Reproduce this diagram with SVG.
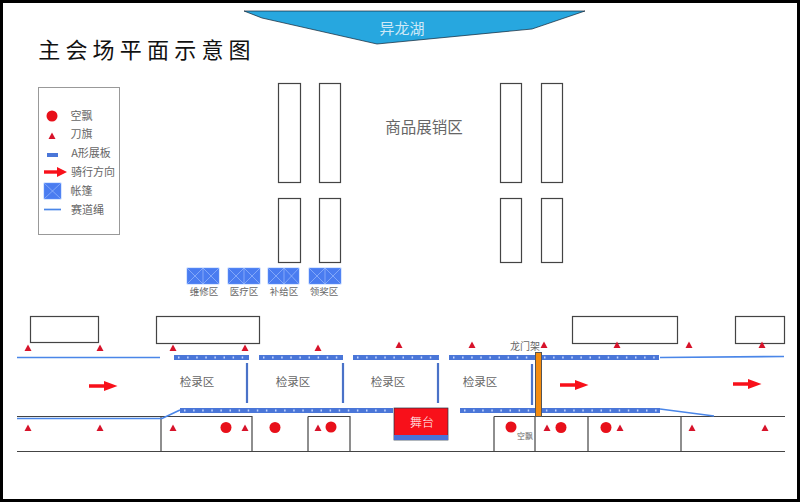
<svg xmlns="http://www.w3.org/2000/svg" width="800" height="502" viewBox="0 0 800 502">
<defs>
<style>
text{font-family:"Noto Sans CJK SC","Liberation Sans",sans-serif;fill:#666;text-anchor:middle}
.box{fill:#fff;stroke:#444;stroke-width:1.200}
.ln{fill:none;stroke:#444;stroke-width:1.200}
.rope{fill:none;stroke:#4a86e8;stroke-width:1.700}
.post{fill:none;stroke:#4a72c8;stroke-width:2.200}
.flag{fill:#d7132a}
.dot{fill:#e8101a}
.band{fill:#4a76d8}
.tick{fill:none;stroke:#c4d6ff;stroke-width:2;stroke-dasharray:1.500 7.600}
.tent{fill:#4a7cf0;stroke:#6a9aff;stroke-width:.5}
.x{stroke:#a8c4ff;stroke-width:.6;fill:none}
.arrow{fill:#f8101a}
.lab{font-size:9.500px}
.big{font-size:11px}
.check{font-size:11.500px}
</style>
<polygon id="f" points="0,-3.500 3.500,3 -3.500,3"/>
</defs>
<rect x="1.500" y="1.500" width="797" height="499" fill="#fff" stroke="#000" stroke-width="3"/>
<text x="147" y="58" style="font-size:22px;fill:#111;letter-spacing:5.200px">主会场平面示意图</text>
<g id="lake"><polygon points="244,11 585,11 532,29 377,44 262,18" fill="#27a7df" stroke="#123" stroke-width=".7"/><text x="402" y="34" style="font-size:15px;fill:#cfe9f7">异龙湖</text></g>
<g id="legend">
<rect x="38.500" y="87.500" width="81" height="147" fill="#fff" stroke="#999"/>
<circle class="dot" cx="52" cy="116" r="5.500"/><use href="#f" x="52" y="136" class="flag"/>
<rect class="band" x="47" y="153" width="11" height="4"/>
<rect class="arrow" x="44" y="170.300" width="14" height="3.400"/><polygon class="arrow" points="57,167 67,172 57,177"/>
<rect class="tent" x="44" y="183" width="17" height="16"/><path class="x" d="M44,183l17,16M61,183l-17,16"/>
<path class="rope" d="M44,209.500h17"/>
<text class="big" x="81.500" y="120">空飘</text><text class="big" x="81.500" y="138">刀旗</text><text class="big" x="91" y="157">A形展板</text><text class="big" x="93" y="176">骑行方向</text><text class="big" x="81.500" y="195">帐篷</text><text class="big" x="87.500" y="214">赛道绳</text>
</g>
<g id="booths"><rect class="box" x="278.500" y="83.500" width="22" height="99"/><rect class="box" x="319.500" y="83.500" width="21" height="99"/><rect class="box" x="500.500" y="83.500" width="21" height="99"/><rect class="box" x="541.500" y="83.500" width="21" height="99"/><rect class="box" x="278.500" y="198.500" width="22" height="64"/><rect class="box" x="319.500" y="198.500" width="21" height="64"/><rect class="box" x="500.500" y="198.500" width="21" height="64"/><rect class="box" x="541.500" y="198.500" width="21" height="64"/><text x="424" y="133" style="font-size:15.500px">商品展销区</text></g>
<g id="tents">
<rect class="tent" x="187" y="268" width="32" height="16"/><path class="x" d="M187,268l16,16M203,268l-16,16M203,268l16,16M219,268l-16,16M203,268v16"/>
<rect class="tent" x="228" y="268" width="32" height="16"/><path class="x" d="M228,268l16,16M244,268l-16,16M244,268l16,16M260,268l-16,16M244,268v16"/>
<rect class="tent" x="268" y="268" width="31" height="16"/><path class="x" d="M268,268l16,16M284,268l-16,16M284,268l15,16M299,268l-15,16M284,268v16"/>
<rect class="tent" x="309" y="268" width="32" height="16"/><path class="x" d="M309,268l16,16M325,268l-16,16M325,268l16,16M341,268l-16,16M325,268v16"/>
<text class="lab" x="204" y="294.500">维修区</text><text class="lab" x="244" y="294.500">医疗区</text><text class="lab" x="284" y="294.500">补给区</text><text class="lab" x="324" y="294.500">领奖区</text></g>
<g id="top-boxes"><rect class="box" x="30.500" y="316.500" width="68" height="26"/><rect class="box" x="156.500" y="316.500" width="103" height="27"/><rect class="box" x="572.500" y="316.500" width="105" height="27"/><rect class="box" x="735.500" y="316.500" width="49" height="27"/></g>
<g id="connectors">
<path class="ln" d="M17,416.500H252V451M161,416.500V451M17,451.500H785M308,416.500H350V451M308,416.500V451M494,416.500H785M494,416.500V451M535,416.500V451M588,416.500V451M681,416.500V451"/>
<path class="rope" d="M17,357.500H160M17,418.500H162L180,410M660,357.500L784,356.500M660,409L714,416"/>
<path class="post" d="M247,363V403M343,363V403M438,363V403M532,364V405"/>
</g>
<g id="panels">
<rect class="band" x="174" y="355" width="75" height="5"/><rect class="band" x="259" y="355" width="84" height="5"/><rect class="band" x="353" y="355" width="86" height="5"/><rect class="band" x="449" y="355" width="210" height="5"/>
<rect class="band" x="180" y="408" width="213" height="5"/><rect class="band" x="460" y="408" width="200" height="5"/>
<path class="tick" d="M178,357.500H249M263,357.500H343M357,357.500H439M453,357.500H659M184,410.500H393M464,410.500H660"/>
</g>
<g id="flags" class="flag">
<use href="#f" x="28" y="348"/><use href="#f" x="100" y="348"/><use href="#f" x="173" y="348"/><use href="#f" x="245" y="348"/><use href="#f" x="318" y="348"/><use href="#f" x="399" y="345"/><use href="#f" x="472" y="345"/><use href="#f" x="544" y="345"/><use href="#f" x="617" y="345"/><use href="#f" x="689" y="345"/><use href="#f" x="762" y="345"/>
<use href="#f" x="28" y="428"/><use href="#f" x="100" y="428"/><use href="#f" x="173" y="428"/><use href="#f" x="245" y="428"/><use href="#f" x="318" y="428"/><use href="#f" x="547" y="428"/><use href="#f" x="620" y="428"/><use href="#f" x="692" y="428"/><use href="#f" x="765" y="428"/>
</g>
<g id="balloons" class="dot"><circle cx="226" cy="427.500" r="5.500"/><circle cx="275" cy="427.500" r="5.500"/><circle cx="331" cy="427" r="5.500"/><circle cx="511" cy="427" r="5.500"/><circle cx="561" cy="427.500" r="5.500"/><circle cx="606" cy="427.500" r="5.500"/></g>
<g id="arrows" class="arrow">
<path d="M89,384.300h15v-3.300l13.500,5l-13.500,5v-3.300h-15z"/><path d="M560,383.300h15v-3.300l13.500,5l-13.500,5v-3.300h-15z"/><path d="M733,382.300h15v-3.300l13.500,5l-13.500,5v-3.300h-15z"/>
</g>
<g id="checkin"><text class="check" x="197" y="386">检录区</text><text class="check" x="293" y="386">检录区</text><text class="check" x="388" y="386">检录区</text><text class="check" x="480" y="386">检录区</text></g>
<g id="stage"><rect x="394" y="408" width="54" height="32" fill="#f8101a" stroke="#234" stroke-width=".7"/><rect x="394" y="435" width="54" height="5" fill="#4a72d8"/><text x="422" y="427" style="font-size:12px;fill:#fff;font-weight:300">舞台</text></g>
<g id="gantry"><rect x="535.500" y="352.500" width="6" height="64" fill="#f48c10" stroke="#555"/><text x="525" y="350" style="font-size:10px">龙门架</text></g>
<text x="525" y="439" style="font-size:8px">空飘</text>
</svg>
